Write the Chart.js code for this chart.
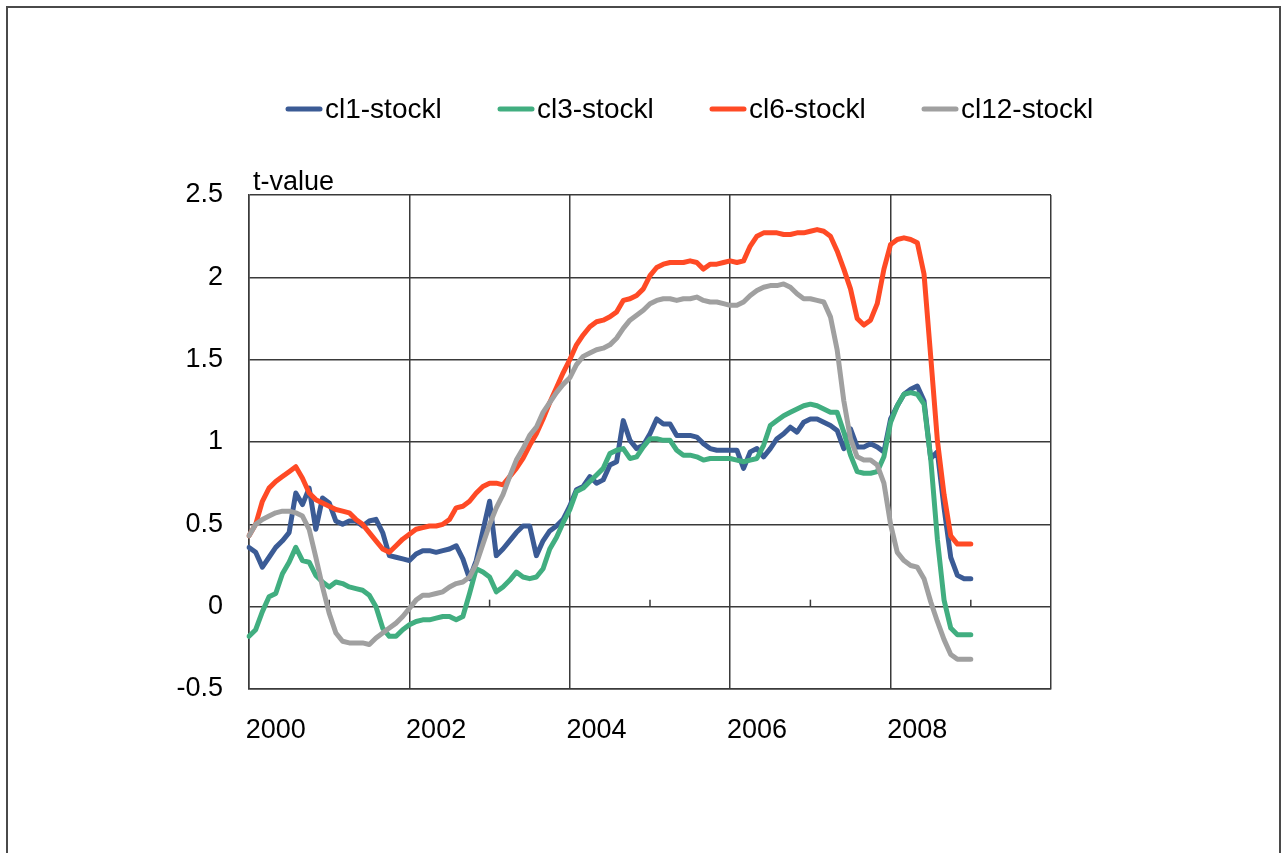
<!DOCTYPE html>
<html>
<head>
<meta charset="utf-8">
<script src="https://cdn.jsdelivr.net/npm/chart.js@4/dist/chart.umd.min.js"></script>
<style>
  html, body { margin: 0; padding: 0; background: #fff; }
  #wrap { position: relative; width: 1288px; height: 853px; overflow: hidden; }
  #frame { position: absolute; left: 6px; top: 6px; width: 1271px; height: 900px; border: 2px solid #4a4a4a; }
  canvas { position: absolute; left: 0; top: 0; }
</style>
</head>
<body>
<div id="wrap">
  <div id="frame"></div>
  <canvas id="tChart" width="1288" height="853"></canvas>
</div>
<script>
// categorias: meses de 1999-09 até 2009-09 (o eixo vai até 2009-09, os dados até 2008-09)
const months = [];
for (let y = 1999, m = 9; months.length < 121; m++) {
  if (m > 12) { m = 1; y++; }
  months.push(y + '-' + String(m).padStart(2, '0'));
}

const yTicks = [-0.5, 0, 0.5, 1, 1.5, 2, 2.5];

const cl1 = [0.36, 0.33, 0.24, 0.30, 0.36, 0.40, 0.45, 0.69, 0.62, 0.72,
  0.47, 0.66, 0.63, 0.52, 0.50, 0.52, 0.52, 0.49, 0.52, 0.53,
  0.45, 0.31, 0.30, 0.29, 0.28, 0.32, 0.34, 0.34, 0.33, 0.34,
  0.35, 0.37, 0.29, 0.17, 0.28, 0.46, 0.64, 0.31, 0.35, 0.40,
  0.45, 0.49, 0.49, 0.31, 0.40, 0.46, 0.49, 0.53, 0.61, 0.71,
  0.73, 0.79, 0.75, 0.77, 0.86, 0.88, 1.13, 1.01, 0.96, 0.98,
  1.05, 1.14, 1.11, 1.11, 1.04, 1.04, 1.04, 1.03, 0.99, 0.96,
  0.95, 0.95, 0.95, 0.95, 0.84, 0.94, 0.96, 0.91, 0.96, 1.02,
  1.05, 1.09, 1.06, 1.12, 1.14, 1.14, 1.12, 1.10, 1.07, 0.96,
  1.08, 0.97, 0.97, 0.99, 0.97, 0.94, 1.14, 1.22, 1.29, 1.32,
  1.34, 1.25, 0.90, 0.94, 0.60, 0.30, 0.19, 0.17, 0.17];

const cl3 = [-0.18, -0.14, -0.03, 0.06, 0.08, 0.20, 0.27, 0.36, 0.28, 0.27,
  0.19, 0.15, 0.12, 0.15, 0.14, 0.12, 0.11, 0.10, 0.07, 0.00,
  -0.13, -0.18, -0.18, -0.14, -0.11, -0.09, -0.08, -0.08, -0.07, -0.06,
  -0.06, -0.08, -0.06, 0.08, 0.23, 0.21, 0.18, 0.09, 0.12, 0.16,
  0.21, 0.18, 0.17, 0.18, 0.23, 0.35, 0.42, 0.51, 0.59, 0.70,
  0.72, 0.76, 0.80, 0.84, 0.93, 0.95, 0.96, 0.90, 0.91, 0.97,
  1.02, 1.02, 1.01, 1.01, 0.95, 0.92, 0.92, 0.91, 0.89, 0.90,
  0.90, 0.90, 0.90, 0.89, 0.88, 0.89, 0.90, 0.98, 1.10, 1.13,
  1.16, 1.18, 1.20, 1.22, 1.23, 1.22, 1.20, 1.18, 1.18, 1.06,
  0.92, 0.82, 0.81, 0.81, 0.82, 0.91, 1.12, 1.22, 1.29, 1.30,
  1.29, 1.23, 0.90, 0.41, 0.04, -0.13, -0.17, -0.17, -0.17];

const cl6 = [0.43, 0.50, 0.64, 0.72, 0.76, 0.79, 0.82, 0.85, 0.78, 0.69,
  0.65, 0.63, 0.61, 0.59, 0.58, 0.57, 0.53, 0.50, 0.45, 0.40,
  0.35, 0.33, 0.37, 0.41, 0.44, 0.47, 0.48, 0.49, 0.49, 0.50,
  0.53, 0.60, 0.61, 0.64, 0.69, 0.73, 0.75, 0.75, 0.74, 0.79,
  0.84, 0.90, 0.98, 1.05, 1.14, 1.24, 1.33, 1.42, 1.50, 1.59,
  1.65, 1.70, 1.73, 1.74, 1.76, 1.79, 1.86, 1.87, 1.89, 1.93,
  2.01, 2.06, 2.08, 2.09, 2.09, 2.09, 2.10, 2.09, 2.05, 2.08,
  2.08, 2.09, 2.10, 2.09, 2.10, 2.19, 2.25, 2.27, 2.27, 2.27,
  2.26, 2.26, 2.27, 2.27, 2.28, 2.29, 2.28, 2.25, 2.16, 2.05,
  1.93, 1.75, 1.71, 1.74, 1.84, 2.05, 2.20, 2.23, 2.24, 2.23,
  2.21, 2.02, 1.52, 1.01, 0.68, 0.43, 0.38, 0.38, 0.38];

const cl12 = [0.43, 0.50, 0.53, 0.55, 0.57, 0.58, 0.58, 0.57, 0.55, 0.47,
  0.30, 0.12, -0.04, -0.16, -0.21, -0.22, -0.22, -0.22, -0.23, -0.19,
  -0.16, -0.13, -0.10, -0.06, -0.01, 0.04, 0.07, 0.07, 0.08, 0.09,
  0.12, 0.14, 0.15, 0.18, 0.26, 0.38, 0.50, 0.60, 0.68, 0.79,
  0.89, 0.96, 1.04, 1.09, 1.18, 1.24, 1.30, 1.35, 1.39, 1.47,
  1.52, 1.54, 1.56, 1.57, 1.59, 1.63, 1.69, 1.74, 1.77, 1.80,
  1.84, 1.86, 1.87, 1.87, 1.86, 1.87, 1.87, 1.88, 1.86, 1.85,
  1.85, 1.84, 1.83, 1.83, 1.85, 1.89, 1.92, 1.94, 1.95, 1.95,
  1.96, 1.94, 1.90, 1.87, 1.87, 1.86, 1.85, 1.76, 1.56, 1.25,
  1.02, 0.91, 0.89, 0.89, 0.86, 0.75, 0.50, 0.33, 0.28, 0.25,
  0.24, 0.17, 0.03, -0.09, -0.20, -0.29, -0.32, -0.32, -0.32];

const seriesNames = ['cl1-stockl', 'cl3-stockl', 'cl6-stockl', 'cl12-stockl'];
const seriesColors = ['#3b5b95', '#41ae80', '#ff4a25', '#a0a0a0'];

const FONT = '"Liberation Sans", Arial, sans-serif';
const GRID = '#3a3a3a';

// legenda e rótulo "t-value" desenhados à mão, marcas pequenas no eixo zero
const extras = {
  id: 'extras',
  beforeDatasetsDraw(chart) {
    const ctx = chart.ctx, x = chart.scales.x, y = chart.scales.y;
    const y0 = y.getPixelForValue(0);
    ctx.save();
    ctx.strokeStyle = GRID;
    ctx.lineWidth = 1.5;
    months.forEach((m, i) => {
      if (i % 24 === 12) {
        const px = x.getPixelForValue(i);
        ctx.beginPath();
        ctx.moveTo(px, y0);
        ctx.lineTo(px, y0 - 7);
        ctx.stroke();
      }
    });
    ctx.restore();
  },
  afterDraw(chart) {
    const ctx = chart.ctx, area = chart.chartArea;
    ctx.save();
    ctx.fillStyle = '#000';
    ctx.font = '27px ' + FONT;
    ctx.textBaseline = 'alphabetic';
    ctx.textAlign = 'left';
    ctx.fillText('t-value', area.left + 4, area.top - 5);

    ctx.font = '28px ' + FONT;
    ctx.textBaseline = 'middle';
    chart.data.datasets.forEach((ds, k) => {
      const lx = 286 + 212 * k, ly = 109;
      ctx.strokeStyle = ds.borderColor;
      ctx.lineWidth = 5;
      ctx.lineCap = 'round';
      ctx.beginPath();
      ctx.moveTo(lx + 2, ly);
      ctx.lineTo(lx + 34, ly);
      ctx.stroke();
      ctx.fillText(ds.label, lx + 39, ly + 1);
    });
    ctx.restore();
  }
};

window.onload = () => {
  const ctx = document.getElementById('tChart').getContext('2d');
  const values = [cl1, cl3, cl6, cl12];
  new Chart(ctx, {
    type: 'line',
    data: {
      labels: months,
      datasets: seriesNames.map((name, k) => ({
        label: name,
        data: values[k],
        borderColor: seriesColors[k],
        backgroundColor: seriesColors[k],
        borderWidth: 5,
        pointRadius: 0,
        tension: 0,
        borderJoinStyle: 'round',
        borderCapStyle: 'round',
        order: 4 - k
      }))
    },
    options: {
      responsive: false,
      animation: false,
      layout: { padding: { left: 169, right: 237, top: 195, bottom: 104 } },
      plugins: {
        legend: { display: false },
        tooltip: { enabled: false }
      },
      scales: {
        x: {
          offset: false,
          afterFit: (s) => { s.height = 60; },
          border: { display: true, color: GRID, width: 1.5 },
          grid: {
            drawTicks: false,
            lineWidth: 1.5,
            color: (c) => (c.index % 24 === 0 ? GRID : 'rgba(0,0,0,0)')
          },
          ticks: {
            autoSkip: false,
            maxRotation: 0,
            minRotation: 0,
            padding: 25,
            color: '#000',
            font: { family: FONT, size: 27 },
            callback: (v, i) => {
              const m = months[i];
              return m.endsWith('-01') && Number(m.slice(0, 4)) % 2 === 0 ? m.slice(0, 4) : '';
            }
          }
        },
        y: {
          min: -0.5,
          max: 2.5,
          afterFit: (s) => { s.width = 80; },
          afterBuildTicks: (s) => { s.ticks = yTicks.map(v => ({ value: v })); },
          border: { display: true, color: GRID, width: 1.5 },
          grid: { drawTicks: false, lineWidth: 1.5, color: GRID },
          ticks: {
            padding: 26,
            color: '#000',
            font: { family: FONT, size: 27 },
            callback: (v) => String(v)
          }
        }
      }
    },
    plugins: [extras]
  });
};
</script>
</body>
</html>
